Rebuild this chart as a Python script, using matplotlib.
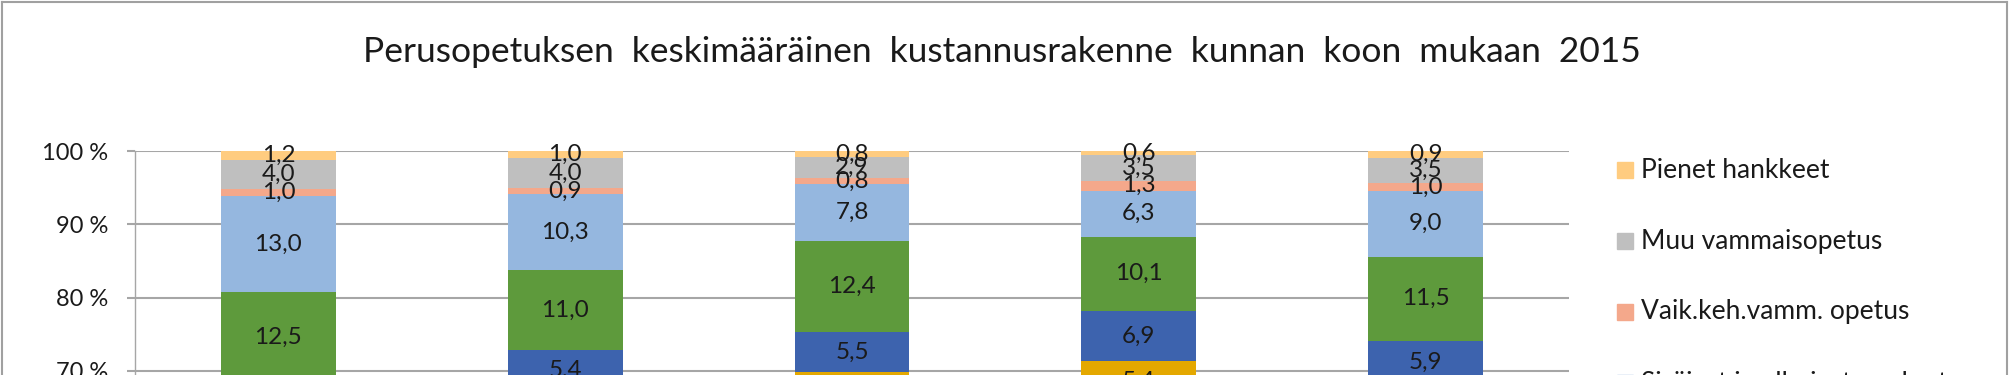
import numpy as np
import matplotlib
matplotlib.use('Agg')
import matplotlib.pyplot as plt
from matplotlib.patches import Rectangle
from matplotlib.lines import Line2D

plt.rcParams['font.family'] = ['Lato', 'DejaVu Sans']

title = 'Perusopetuksen  keskimääräinen  kustannusrakenne  kunnan  koon  mukaan  2015'

# five municipality size classes (category names fall outside the visible crop)
n_groups = 5

# series listed from the top of each stack downward, values in percent
series_names = ['Pienet hankkeet', 'Muu vammaisopetus', 'Vaik.keh.vamm. opetus',
                'Sisäiset ja ulkoiset vuokrat', 'Ruokailu', 'Kuljetus', 'Oppilashuolto']
pienet = [1.2, 1.0, 0.8, 0.6, 0.9]
muu_vamm = [4.0, 4.0, 2.9, 3.5, 3.5]
vaik_keh = [1.0, 0.9, 0.8, 1.3, 1.0]
sisaiset = [13.0, 10.3, 7.8, 6.3, 9.0]
vihrea = [12.5, 11.0, 12.4, 10.1, 11.5]
tummansin = [np.nan, 5.4, 5.5, 6.9, 5.9]
kulta = [np.nan, np.nan, 4.0, 5.4, np.nan]

colors = ['#FFCC80', '#BFBFBF', '#F4A88B', '#95B7DF', '#5E9A3C', '#3D63AE', '#E4A800']

W, H = 2010, 375
fig = plt.figure(figsize=(W / 100, H / 100), dpi=100)

# axes: 100 % line at y=151 px, 10 % = 73.3 px, x from 135 to 1569 px
top_px, step_px = 151, 73.33
ymin = 60
height = (100 - ymin) / 10 * step_px / H
top = 1 - top_px / H
ax = fig.add_axes([135 / W, top - height, (1569 - 135) / W, height])

x = np.arange(n_groups)
all_series = [pienet, muu_vamm, vaik_keh, sisaiset, vihrea, tummansin, kulta]
upper = np.full(n_groups, 100.0)
for vals, col in zip(all_series, colors):
    v = np.array(vals, dtype=float)
    bottom = upper - v
    ax.bar(x, v, bottom=bottom, width=0.4, color=col, zorder=2)
    for i in range(n_groups):
        if np.isnan(v[i]):
            continue
        ax.text(x[i], bottom[i] + v[i] / 2, f'{v[i]:.1f}'.replace('.', ','),
                ha='center', va='center', fontsize=17.5, color='#1a1a1a', zorder=3)
    upper = bottom

ax.set_xlim(-0.5, n_groups - 0.5)
ax.set_ylim(ymin, 100)
ax.set_yticks([60, 70, 80, 90, 100])
ax.set_yticklabels([f'{t} %' for t in [60, 70, 80, 90, 100]], fontsize=17, color='#1a1a1a')
ax.set_xticks([])
ax.yaxis.grid(True, color='#A6A6A6', linewidth=1.5, zorder=0)
ax.set_axisbelow(True)
for s in ['top', 'right', 'bottom']:
    ax.spines[s].set_visible(False)
ax.spines['left'].set_color('#A6A6A6')
ax.spines['left'].set_linewidth(1.0)
ax.tick_params(axis='y', length=6, width=1.5, color='#A6A6A6', pad=13)

fig.text(1002 / W, 1 - 62 / H, title, ha='center', va='baseline', fontsize=25.5, color='#1a1a1a')

# legend, drawn by hand to match row spacing
for i, (name, col) in enumerate(zip(series_names, colors)):
    yc = 170 + 71 * i
    fig.patches.append(Rectangle((1617 / W, 1 - (yc + 8) / H), 16 / W, 16 / H,
                                 transform=fig.transFigure, color=col))
    fig.text(1641 / W, 1 - yc / H, name, ha='left', va='center', fontsize=19, color='#1a1a1a')

# chart frame
frame = '#A0A0A0'
fig.add_artist(Line2D([1.5 / W, 1.5 / W], [0, 1 - 1.5 / H], color=frame, lw=1.5))
fig.add_artist(Line2D([1.5 / W, 2007 / W], [1 - 1.5 / H, 1 - 1.5 / H], color=frame, lw=1.5))
fig.add_artist(Line2D([2007 / W, 2007 / W], [0, 1 - 1.5 / H], color=frame, lw=1.5))

fig.savefig('out.png', dpi=100, facecolor='white')
